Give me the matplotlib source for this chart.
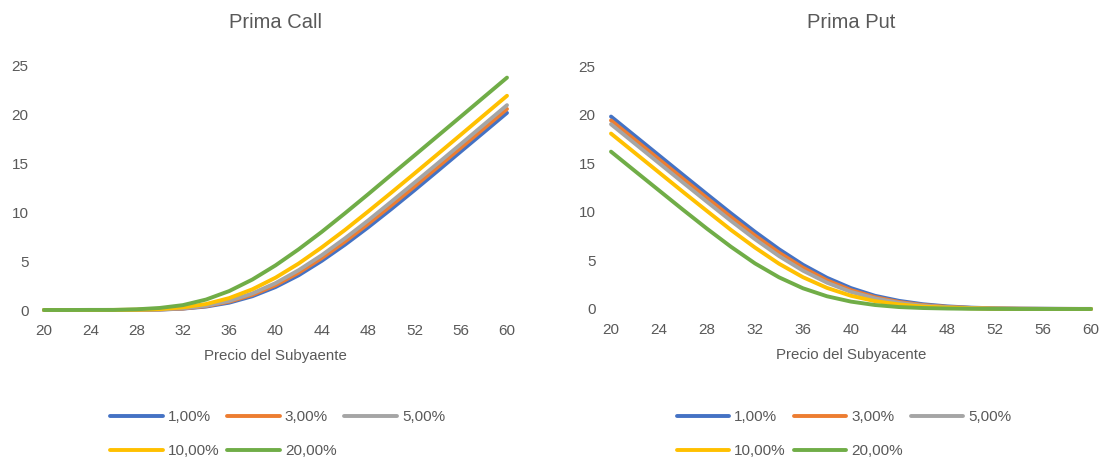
import matplotlib.pyplot as plt

plt.rcParams['font.family'] = ['Liberation Sans', 'DejaVu Sans']

# precio del subyacente
precio = [20, 22, 24, 26, 28, 30, 32, 34, 36, 38, 40,
          42, 44, 46, 48, 50, 52, 54, 56, 58, 60]

tasas = ["1,00%", "3,00%", "5,00%", "10,00%", "20,00%"]

call_1 = [0, 0, 0, 0, 0.01, 0.04, 0.14, 0.35, 0.75, 1.41, 2.35,
          3.56, 5.04, 6.69, 8.47, 10.34, 12.27, 14.24, 16.23, 18.21, 20.20]
call_3 = [0, 0, 0, 0, 0.01, 0.06, 0.15, 0.40, 0.85, 1.55, 2.54,
          3.82, 5.32, 7.01, 8.82, 10.71, 12.65, 14.63, 16.61, 18.60, 20.60]
call_5 = [0, 0, 0, 0, 0.02, 0.06, 0.18, 0.44, 0.93, 1.70, 2.75,
          4.08, 5.62, 7.34, 9.17, 11.09, 13.04, 15.01, 16.99, 18.99, 20.99]
call_10 = [0, 0, 0, 0.01, 0.03, 0.09, 0.27, 0.61, 1.22, 2.12, 3.31,
           4.76, 6.42, 8.20, 10.09, 12.02, 13.98, 15.96, 17.95, 19.95, 21.95]
call_20 = [0, 0, 0.01, 0.01, 0.07, 0.21, 0.50, 1.07, 1.94, 3.12, 4.57,
           6.22, 8.01, 9.91, 11.86, 13.85, 15.83, 17.82, 19.81, 21.81, 23.81]

put_1 = [19.80, 17.80, 15.80, 13.80, 11.81, 9.84, 7.94, 6.15, 4.55, 3.21, 2.15,
         1.36, 0.84, 0.49, 0.27, 0.14, 0.07, 0.04, 0.03, 0.01, 0.01]
put_3 = [19.40, 17.40, 15.40, 13.40, 11.42, 9.46, 7.56, 5.80, 4.25, 2.95, 1.94,
         1.22, 0.72, 0.41, 0.22, 0.11, 0.05, 0.03, 0.01, 0.01, 0]
put_5 = [19.01, 17.01, 15.01, 13.01, 11.03, 9.07, 7.19, 5.45, 3.94, 2.71, 1.76,
         1.09, 0.63, 0.35, 0.18, 0.10, 0.05, 0.02, 0.01, 0.01, 0]
put_10 = [18.05, 16.05, 14.05, 12.05, 10.08, 8.13, 6.32, 4.66, 3.27, 2.17, 1.36,
          0.81, 0.47, 0.25, 0.14, 0.07, 0.03, 0.01, 0.01, 0, 0]
put_20 = [16.19, 14.19, 12.20, 10.21, 8.26, 6.40, 4.69, 3.26, 2.13, 1.31, 0.76,
          0.41, 0.20, 0.10, 0.05, 0.02, 0.01, 0, 0, 0, 0]

colores = ["#4472C4", "#ED7D31", "#A5A5A5", "#FFC000", "#70AD47"]
gris = "#595959"

fig = plt.figure(figsize=(11.04, 4.61), dpi=100)
ax_call = fig.add_axes([44 / 1104, 151 / 461, 463 / 1104, 244 / 461])
ax_put = fig.add_axes([611 / 1104, 152 / 461, 480 / 1104, 243 / 461])

paneles = [
    (ax_call, "Prima Call", "Precio del Subyaente", [call_1, call_3, call_5, call_10, call_20], 0.2514),
    (ax_put, "Prima Put", "Precio del Subyacente", [put_1, put_3, put_5, put_10, put_20], 0.7645),
]

for ax, titulo, etiqueta, series, xleg in paneles:
    lineas = []
    for serie, color, tasa in zip(series, colores, tasas):
        ln, = ax.plot(precio, serie, color=color, lw=2.8, label=tasa,
                      solid_capstyle='round', clip_on=False)
        lineas.append(ln)

    ax.set_xlim(20, 60)
    ax.set_ylim(0, 25)
    ax.set_xticks(range(20, 61, 4))
    ax.set_yticks(range(0, 26, 5))
    for s in ax.spines.values():
        s.set_visible(False)
    ax.tick_params(length=0, labelsize=11, labelcolor=gris)
    ax.tick_params(axis='x', pad=10)
    ax.tick_params(axis='y', pad=11)

    ax.set_title(titulo, fontsize=14.5, color=gris, pad=27)
    ax.set_xlabel(etiqueta, fontsize=10.8, color=gris, labelpad=8)

    # orden por filas: 1%, 3%, 5% arriba y 10%, 20% abajo
    orden = [0, 3, 1, 4, 2]
    fig.legend([lineas[i] for i in orden], [tasas[i] for i in orden],
               loc='center', bbox_to_anchor=(xleg, 0.058), ncol=3,
               frameon=False, fontsize=11, labelcolor=gris,
               handlelength=3.45, handletextpad=0.33, columnspacing=0.5,
               labelspacing=1.3)

fig.savefig("out.png", dpi=100)
